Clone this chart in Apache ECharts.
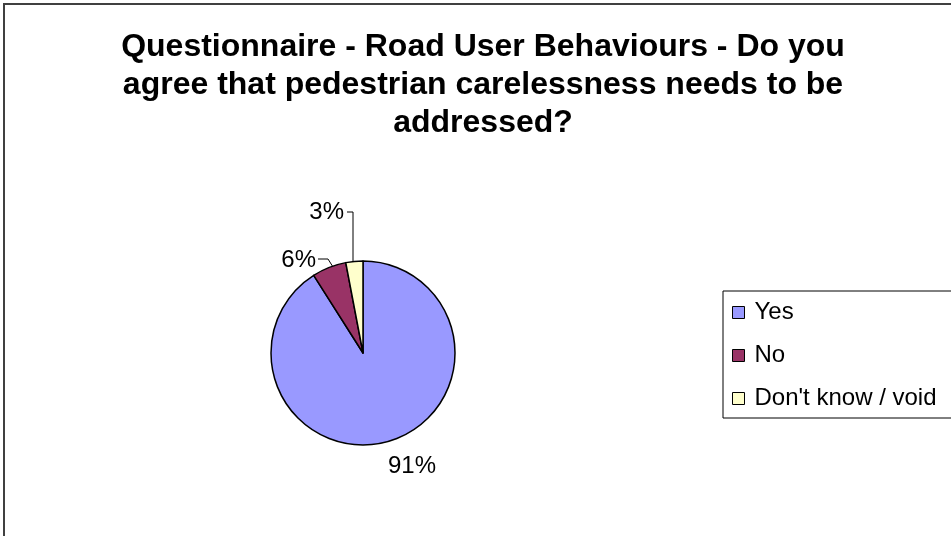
<!DOCTYPE html>
<html>
<head>
<meta charset="utf-8">
<title>Road User Behaviours - pie</title>
<script src="https://cdn.jsdelivr.net/npm/echarts@6/dist/echarts.min.js"></script>
<style>
    html, body {margin: 0; padding: 0; background: #fff;}
    #chartWrap {width: 951px; height: 536px;}
</style>
</head>
<body>
<div id="chartWrap"></div>
<script>
// chart data
const answers = ['Yes', 'No', "Don't know / void"];
const shares = [91, 6, 3];
const sliceColors = ['#9999FF', '#993366', '#FFFFCC'];
const titleText = 'Questionnaire - Road User Behaviours - Do you\nagree that pedestrian carelessness needs to be\naddressed?';

// where the excel-like labels sit (label anchor + leader line)
const labelSpots = {
    'Yes': {x: 412, y: 466, line: null},
    'No': {x: 316, y: 260, line: [[318, 259], [328, 259], [333, 267]]},
    "Don't know / void": {x: 344, y: 212, line: [[347, 212], [353, 212], [353, 262]]}
};

const font = '"Liberation Sans", Arial, sans-serif';

let myChart = echarts.init(document.getElementById('chartWrap'));

let pieData = answers.map(function (name, i) {
    return {
        name: name,
        value: shares[i],
        itemStyle: {color: sliceColors[i]},
        labelLine: {show: i !== 0}
    };
});

const option = {
    animation: false,
    backgroundColor: '#fff',
    title: {
        text: titleText,
        left: 483,
        top: 28,
        padding: 0,
        textAlign: 'center',
        textStyle: {
            fontFamily: font,
            fontSize: 32,
            fontWeight: 'bold',
            color: '#000',
            lineHeight: 38
        }
    },
    legend: {
        orient: 'vertical',
        left: 723,
        top: 291,
        padding: [9, 20, 7, 9],
        borderColor: '#000',
        borderWidth: 1,
        itemWidth: 12,
        itemHeight: 12,
        itemGap: 18,
        icon: 'rect',
        itemStyle: {borderColor: '#000', borderWidth: 1},
        textStyle: {
            fontFamily: font,
            fontSize: 24,
            color: '#000',
            lineHeight: 25,
            padding: [0, 0, 0, 5]
        },
        data: answers
    },
    graphic: [{
        type: 'rect',
        shape: {x: 4, y: 4, width: 1200, height: 800},
        style: {fill: 'none', stroke: '#404040', lineWidth: 2},
        silent: true,
        z: 100
    }],
    series: [{
        type: 'pie',
        center: [363, 353],
        radius: 92,
        startAngle: 90,
        clockwise: true,
        itemStyle: {borderColor: '#000', borderWidth: 1.5},
        label: {
            show: true,
            formatter: '{c}%',
            fontFamily: font,
            fontSize: 24,
            color: '#000'
        },
        labelLine: {
            show: true,
            lineStyle: {color: '#000', width: 1}
        },
        labelLayout: function (params) {
            const spot = labelSpots[answers[params.dataIndex]];
            let out = {
                x: spot.x,
                y: spot.y,
                align: params.dataIndex === 0 ? 'center' : 'right',
                verticalAlign: 'middle'
            };
            if (spot.line) {
                out.labelLinePoints = spot.line;
            }
            return out;
        },
        data: pieData
    }]
};

myChart.setOption(option);
</script>
</body>
</html>
